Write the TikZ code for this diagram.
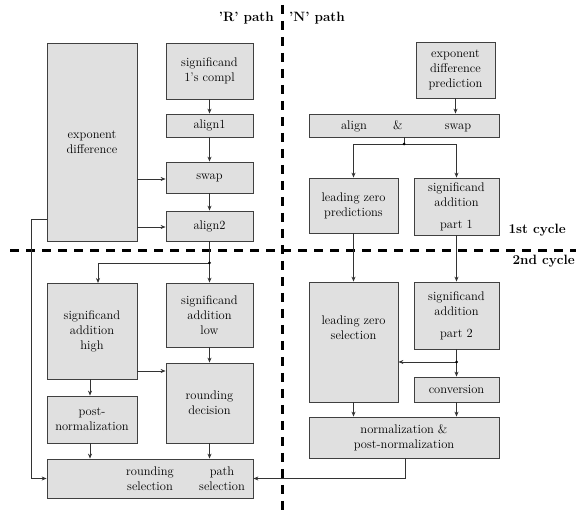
\documentclass[tikz,border=0pt]{standalone}
\usetikzlibrary{arrows.meta}
\begin{document}
\begin{tikzpicture}[x=1pt,y=-1pt,
  blk/.style={draw=black!75, line width=0.8pt, fill=black!12, inner sep=0pt, align=center, font=\fontsize{12.5}{15}\selectfont},
  lbl/.style={inner sep=0pt, align=center, font=\fontsize{12.5}{15}\selectfont},
  hd/.style={inner sep=0pt, font=\fontsize{13.5}{16}\selectfont\bfseries},
  con/.style={draw=black!80, line width=0.8pt},
  arr/.style={con, -{Stealth[length=5pt,width=4pt]}},
  cyc/.style={line width=3pt, dash pattern=on 9pt off 7pt},
  dot/.style={circle, fill=black, inner sep=0pt, minimum size=3pt}
]
\useasboundingbox (0,0) rectangle (576,510);

% dashed separators
\coordinate (hL) at (10,251);
\coordinate (hR) at (576,251);
\coordinate (vT) at (282,5);
\coordinate (vB) at (282,510);
\draw[cyc] (hL) -- (hR);
\draw[cyc] (vT) -- (vB);

% headings
\node[hd, anchor=base east] (rp) at (274,22) {'R' path};
\node[hd, anchor=base west] (np) at (289,22) {'N' path};
\node[hd, anchor=base east] (c1) at (566,234) {1st cycle};
\node[hd, anchor=base east] (c2) at (575,265) {2nd cycle};

% R path boxes
\node[blk, minimum width=90pt, minimum height=198pt] (expdiff) at (92,142) {exponent\\difference};
\node[blk, minimum width=87pt, minimum height=56pt] (sig1c) at (209.5,71) {significand\\1's compl};
\node[blk, minimum width=87pt, minimum height=23pt] (align1) at (209.5,125.5) {align1};
\node[blk, minimum width=87pt, minimum height=31pt] (swap) at (209.5,177.5) {swap};
\node[blk, minimum width=87pt, minimum height=30pt] (align2) at (209.5,226) {align2};

\node[blk, minimum width=90pt, minimum height=96pt] (sah) at (92,331) {significand\\addition\\high};
\node[blk, minimum width=87pt, minimum height=64pt] (sal) at (209.5,315) {significand\\addition\\low};
\node[blk, minimum width=87pt, minimum height=80pt] (rd) at (209.5,403) {rounding\\decision};
\node[blk, minimum width=90pt, minimum height=47pt] (pn) at (92,419.5) {post-\\normalization};
\node[blk, minimum width=206pt, minimum height=39pt] (sel) at (150,478.5) {rounding\\selection};
\node[lbl] (selp) at (222,478.5) {path\\selection};

% N path boxes
\node[blk, minimum width=79pt, minimum height=56pt] (edp) at (455.5,70) {exponent\\difference\\prediction};
\node[blk, minimum width=190pt, minimum height=23pt] (as) at (404,125.5) {};
\node[lbl, anchor=base] (asa) at (354,130) {align};
\node[lbl, anchor=base] (asb) at (398,130) {\&};
\node[lbl, anchor=base] (asc) at (458,130) {swap};
\node[blk, minimum width=89pt, minimum height=55pt] (lzp) at (353.5,205.5) {leading zero\\predictions};
\node[blk, minimum width=85pt, minimum height=57pt] (sap1) at (456.5,206.5) {significand\\addition\\[7pt]part 1};
\node[blk, minimum width=89pt, minimum height=120pt] (lzs) at (353.5,342) {leading zero\\selection\\[14pt]};
\node[blk, minimum width=85pt, minimum height=67pt] (sap2) at (456.5,315.5) {significand\\addition\\[7pt]part 2};
\node[blk, minimum width=85pt, minimum height=25pt] (conv) at (456.5,389.5) {conversion};
\node[blk, minimum width=190pt, minimum height=41pt] (norm) at (404,437.5) {normalization \&\\post-normalization};

% R path connectors
\draw[arr] (sig1c) -- (align1);
\draw[arr] (align1) -- (swap);
\draw[arr] (swap) -- (align2);
\draw[arr] (expdiff.east |- 0,179) -- (swap.west |- 0,179);
\draw[arr] (expdiff.east |- 0,227) -- (align2.west |- 0,227);
\coordinate (eL) at (47,219);
\coordinate (eLc) at (31,219);
\draw[arr] (eL) -- (eLc) |- (sel.west);

\coordinate (b1) at (209.5,263);
\draw[con] (align2) -- (b1);
\draw[arr] (b1) -- (sal);
\coordinate (sahT) at (98,283);
\draw[arr] (b1) -| (sahT);
\node[dot] (b1d) at (b1) {};
\draw[arr] (sal) -- (rd);
\draw[arr] (sah.east |- 0,371) -- (rd.west |- 0,371);
\draw[arr] (sah.south -| 90,0) -- (pn.north -| 90,0);
\draw[arr] (pn.south -| 90,0) -- (sel.north -| 90,0);
\draw[arr] (rd) -- (sel.north -| rd);

% N path connectors
\draw[arr] (edp) -- (as.north -| edp);
\coordinate (b2) at (404,144);
\draw[con] (as) -- (b2);
\draw[arr] (b2) -| (lzp);
\draw[arr] (b2) -| (sap1);
\node[dot] (b2d) at (b2) {};
\draw[arr] (lzp) -- (lzs);
\draw[arr] (sap1) -- (sap2);
\coordinate (b3) at (456.5,362);
\draw[con] (sap2) -- (b3);
\draw[arr] (b3) -- (conv);
\draw[arr] (b3) -- (lzs.east |- b3);
\node[dot] (b3d) at (b3) {};
\draw[arr] (lzs) -- (norm.north -| lzs);
\draw[arr] (conv) -- (norm.north -| conv);
\draw[arr] (norm.south -| 405,0) |- (sel.east);
\end{tikzpicture}
\end{document}
